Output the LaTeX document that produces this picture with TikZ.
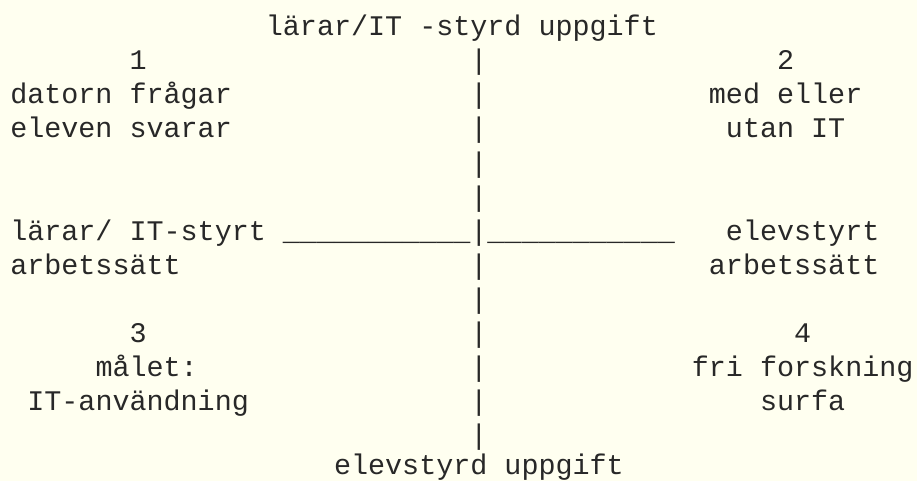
\documentclass[tikz,border=0pt]{standalone}
\usepackage{fontspec}
\newfontfamily\asciifont{Liberation Mono}
\definecolor{paper}{RGB}{255,255,240}
\definecolor{ink}{RGB}{40,40,40}
\tikzset{
  txt/.style={anchor=base west, inner sep=0pt, outer sep=0pt,
    font=\asciifont\fontsize{21.3pt}{25pt}\selectfont, text=ink},
  cell/.style 2 args={at={({10.3+17.04*#1},{36+34*#2})}}
}
\begin{document}
\begin{tikzpicture}[x=0.75pt,y=-0.75pt]
\fill[paper] (0,0) rectangle (917,481);
\useasboundingbox (0,0) rectangle (917,481);
% axis labels
\node[txt,cell={15}{0}] (title) {lärar/IT -styrd uppgift};
\node[txt,at={({10.3+17.04*19},{474})}] (bottom) {elevstyrd uppgift};
% vertical axis (ASCII bars)
\foreach \r in {1,...,12}{
  \node[txt,cell={27}{\r}] (bar\r) {|};
}
% horizontal axis (ASCII underscores)
\node[txt,cell={16}{6}] (uleft) {\_\_\_\_\_\_\_\_\_\_\_};
\node[txt,cell={28}{6}] (uright) {\_\_\_\_\_\_\_\_\_\_\_};
\node[txt,cell={0}{6}] (left1) {lärar/ IT-styrt};
\node[txt,cell={0}{7}] (left2) {arbetssätt};
\node[txt,cell={42}{6}] (right1) {elevstyrt};
\node[txt,cell={41}{7}] (right2) {arbetssätt};
% quadrant 1
\node[txt,cell={7}{1}] (q1num) {1};
\node[txt,cell={0}{2}] (q1a) {datorn frågar};
\node[txt,cell={0}{3}] (q1b) {eleven svarar};
% quadrant 2
\node[txt,cell={45}{1}] (q2num) {2};
\node[txt,cell={41}{2}] (q2a) {med eller};
\node[txt,cell={42}{3}] (q2b) {utan IT};
% quadrant 3
\node[txt,cell={7}{9}] (q3num) {3};
\node[txt,cell={5}{10}] (q3a) {målet:};
\node[txt,cell={1}{11}] (q3b) {IT-användning};
% quadrant 4
\node[txt,cell={46}{9}] (q4num) {4};
\node[txt,cell={40}{10}] (q4a) {fri forskning};
\node[txt,cell={44}{11}] (q4b) {surfa};
\end{tikzpicture}
\end{document}
